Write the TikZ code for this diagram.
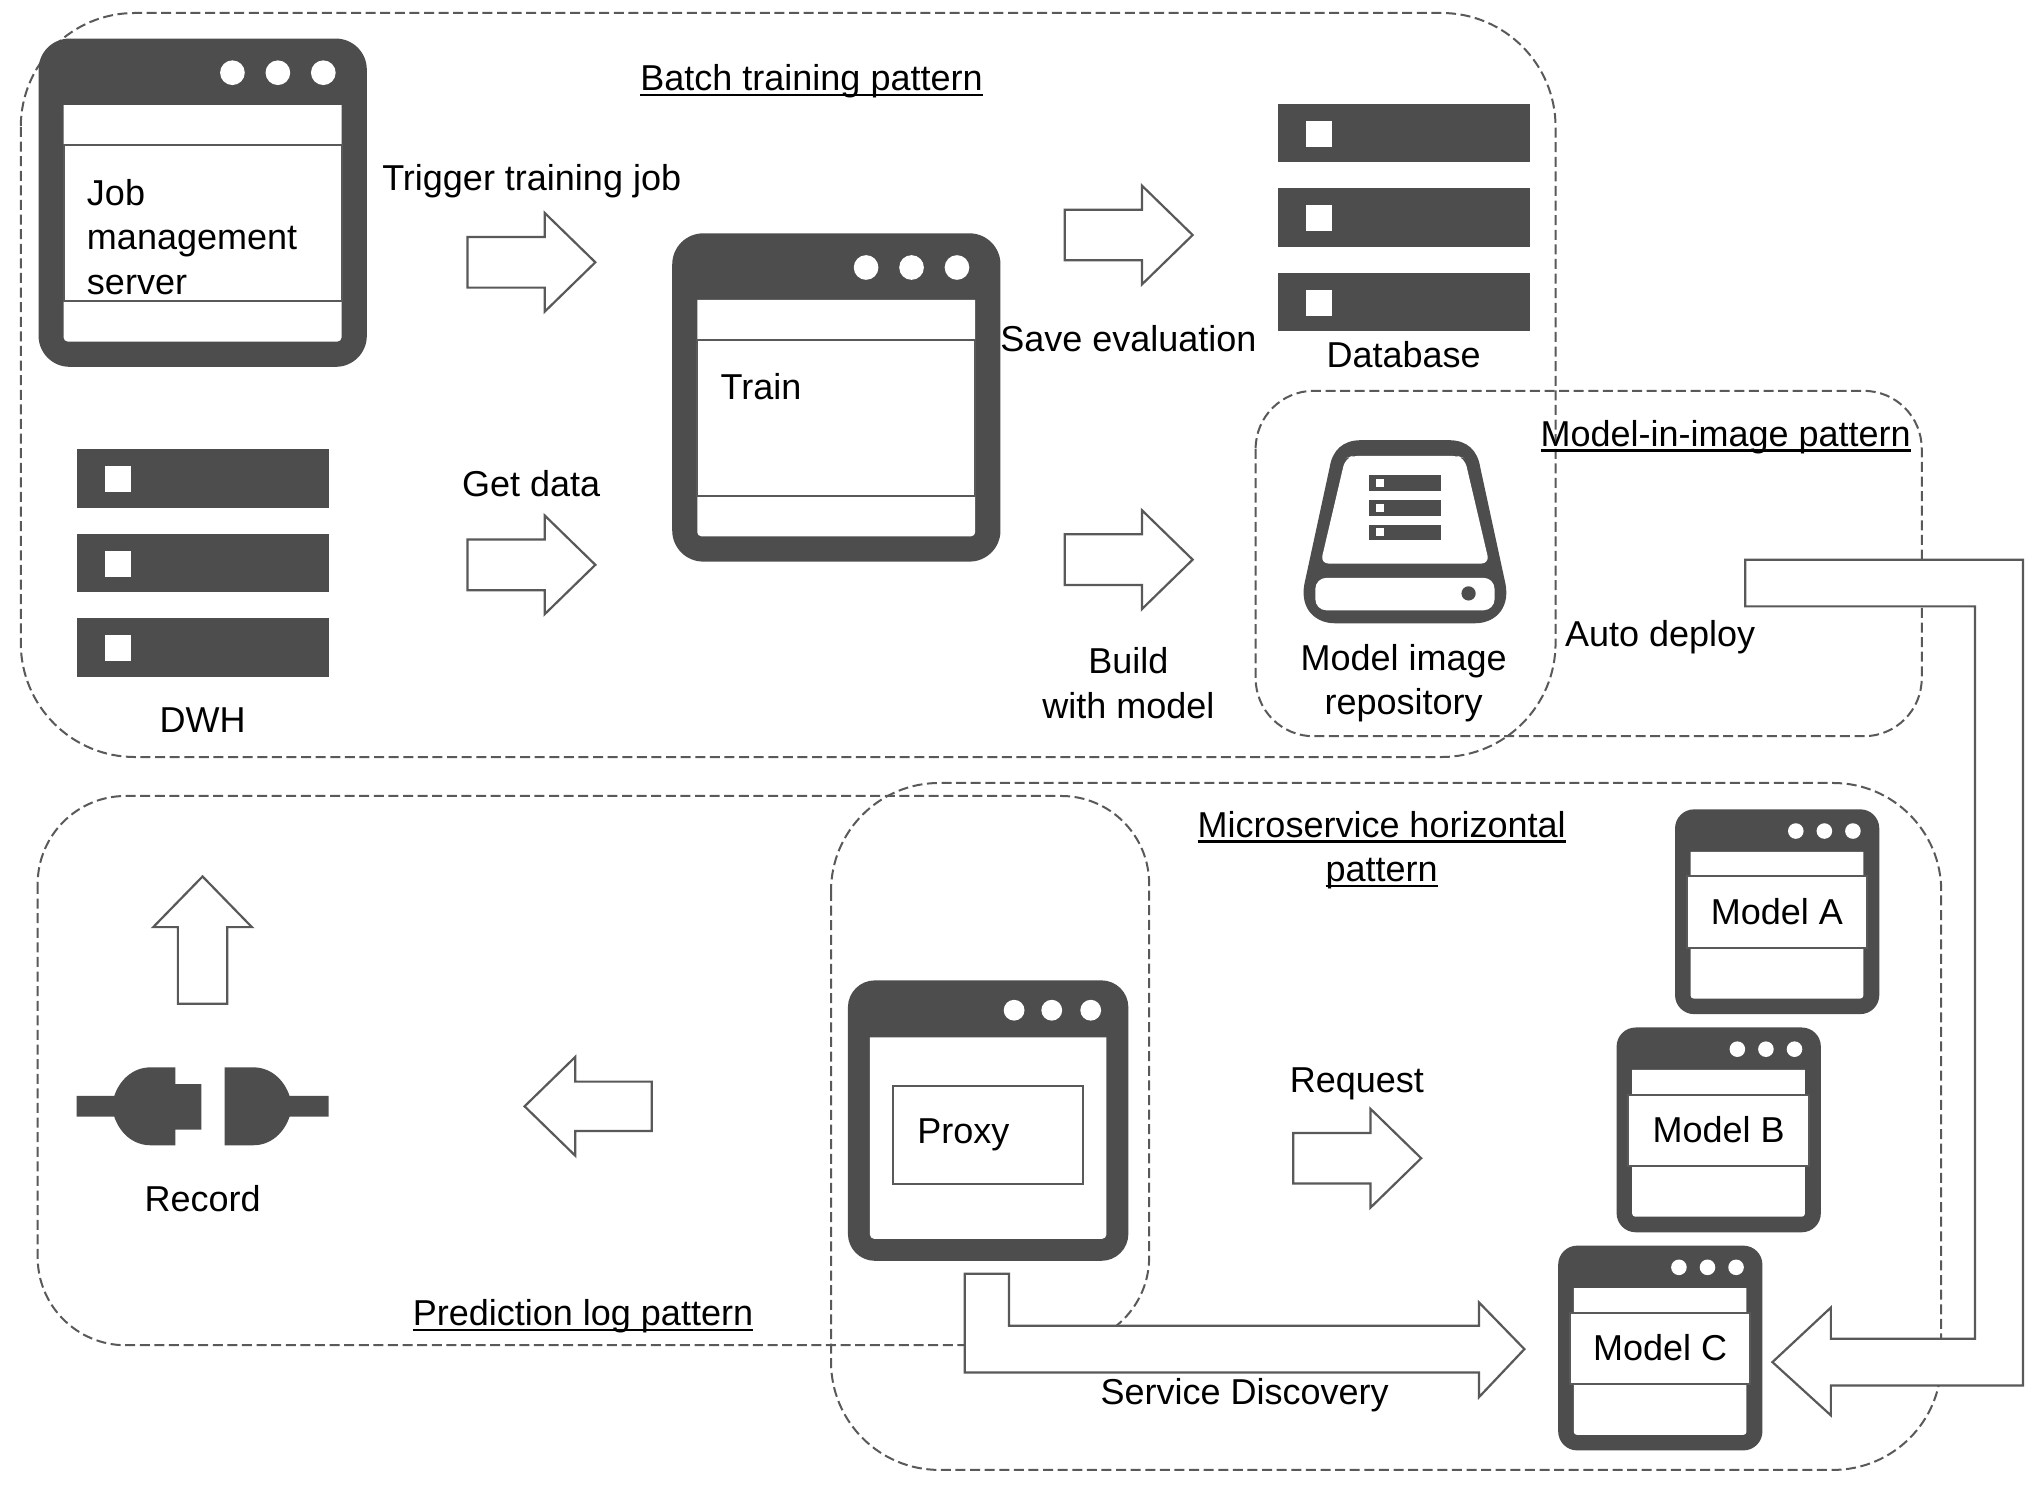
\documentclass[tikz,border=0pt]{standalone}
\usepackage{fontspec}
\setmainfont{Liberation Sans}
\definecolor{ico}{HTML}{4D4D4D}
\definecolor{edge}{HTML}{595959}
\tikzset{
  zone/.style={draw=edge,line width=1pt,dash pattern=on 5pt off 2.3pt},
  blockarrow/.style={draw=edge,fill=white,line width=1.1pt,line join=miter},
  icon/.style={fill=ico,draw=none},
  hole/.style={fill=white,draw=none},
  panel/.style={draw=edge,fill=white,line width=1pt},
  lab/.style={inner sep=0pt,outer sep=0pt,font=\fontsize{18}{22.2}\selectfont,text=black},
}
\newcommand{\ulab}[1]{\leavevmode\setbox0=\hbox{#1}\dp0=0pt\vtop{\box0\kern 1.4pt\hrule height 1.3pt}}
\newcommand{\bigwin}[2]{\begin{scope}[shift={(#1,#2)}]
  \fill[icon,rounded corners=15.5pt] (-0.3,-0.3) rectangle (252.5,252.5);
  \fill[hole] (19,51) -- (233,51) [rounded corners=2pt] -- (233,233) -- (19,233) [sharp corners] -- cycle;
  \draw[panel] (19,82) rectangle (233,202);
  \foreach \dx in {149,184,219} \fill[white] (\dx,26) circle[radius=9.5];
\end{scope}}
\newcommand{\smallwin}[2]{\begin{scope}[shift={(#1,#2)}]
  \fill[icon,rounded corners=9.5pt] (0,-0.7) rectangle (157.3,157);
  \fill[hole] (12,32) -- (145,32) [rounded corners=1.5pt] -- (145,145) -- (12,145) [sharp corners] -- cycle;
  \draw[panel] (9,51) rectangle (148,106);
  \foreach \dx in {93,115,137} \fill[white] (\dx,16) circle[radius=6];
\end{scope}}
\newcommand{\serverstack}[2]{\begin{scope}[shift={(#1,#2)}]
  \foreach \dy in {0,65,130} {
    \fill[icon] (0,\dy) rectangle (194,\dy+45);
    \fill[hole] (22,\dy+13) rectangle (42,\dy+33);
  }
\end{scope}}
\newcommand{\rightarrowblock}[2]{\draw[blockarrow] (#1,#2-19.5) -- (#1+59.5,#2-19.5) -- (#1+59.5,#2-38) -- (#1+98.5,#2) -- (#1+59.5,#2+38) -- (#1+59.5,#2+19.5) -- (#1,#2+19.5) -- cycle;}
\begin{document}
\begin{tikzpicture}[x=0.64923pt,y=-0.64923pt]
\useasboundingbox (0,0) rectangle (1568,1143);
\fill[white] (0,0) rectangle (1568,1143);

% dashed zones
\draw[zone,rounded corners=57pt] (16,10) rectangle (1198,583);
\draw[zone,rounded corners=29pt] (967,301) rectangle (1480,567);
\draw[zone,rounded corners=54pt] (640,603) rectangle (1495,1132);
\draw[zone,rounded corners=44pt] (29,613) rectangle (885,1036);

% windows
\bigwin{30}{30}
\bigwin{518}{180}
\smallwin{1290}{624}
\smallwin{1245}{792}
\smallwin{1200}{960}

% proxy window
\fill[icon,rounded corners=13.5pt] (653,755) rectangle (869,971);
\fill[hole] (670,799) -- (852,799) [rounded corners=2pt] -- (852,954) -- (670,954) [sharp corners] -- cycle;
\draw[panel] (688,836) rectangle (834,912);
\foreach \dx in {781,810,840} \fill[white] (\dx,778) circle[radius=8];

% servers
\serverstack{59}{346}
\serverstack{984}{80}

% disk icon
\fill[icon] (1048,339) -- (1116,339) .. controls (1130,339) and (1138,347) .. (1140,360)
  -- (1159.5,450) .. controls (1163,470) and (1150,480) .. (1136,480)
  -- (1028,480) .. controls (1014,480) and (1001,470) .. (1004.5,450)
  -- (1024,360) .. controls (1026,347) and (1034,339) .. (1048,339) -- cycle;
\fill[hole,rounded corners=4pt] (1042,351) -- (1122,351) -- (1128,353) -- (1147,434) -- (1017,434) -- (1036,353) -- cycle;
\fill[hole,rounded corners=5.5pt] (1013,445) rectangle (1151,470);
\fill[icon] (1131,457) circle[radius=5.5];
\foreach \by in {366,385,404} {
  \fill[icon] (1054,\by) rectangle (1110,\by+12);
  \fill[hole] (1060,\by+3) rectangle (1066,\by+9);
}

% plug
\fill[icon] (59,844) -- (88,844) .. controls (92,832) and (102,822) .. (116,822) -- (135,822) -- (135,835) -- (155,835) -- (155,870) -- (135,870) -- (135,882) -- (116,882) .. controls (102,882) and (92,872) .. (88,860) -- (59,860) -- cycle;
\fill[icon] (173,822) -- (195,822) .. controls (209,822) and (219,832) .. (223,844) -- (253,844) -- (253,860) -- (223,860) .. controls (219,872) and (209,882) .. (195,882) -- (173,882) -- cycle;

% block arrows
\rightarrowblock{360}{202}
\rightarrowblock{360}{435}
\rightarrowblock{820}{181}
\rightarrowblock{820}{431}
\rightarrowblock{996}{892}
\draw[blockarrow] (502,833) -- (443,833) -- (443,814) -- (404,852) -- (443,890) -- (443,871) -- (502,871) -- cycle;
\draw[blockarrow] (137,773) -- (137,714) -- (118,714) -- (156,675) -- (194,714) -- (175,714) -- (175,773) -- cycle;
\draw[blockarrow] (743,981) -- (777,981) -- (777,1021) -- (1139,1021) -- (1139,1003) -- (1174,1039) -- (1139,1076) -- (1139,1057) -- (743,1057) -- cycle;
\draw[blockarrow] (1344,431) -- (1558,431) -- (1558,1067) -- (1410,1067) -- (1410,1090) -- (1365,1049) -- (1410,1007) -- (1410,1031) -- (1521,1031) -- (1521,467) -- (1344,467) -- cycle;

% labels
\node[lab,anchor=base] (batch) at (625,70) {\ulab{Batch training pattern}};
\node[lab,anchor=base] (trigger) at (409.5,147) {Trigger training job};
\node[lab,align=left,anchor=west] (job) at (67,182.5) {Job\\management\\server};
\node[lab,anchor=base west] (train) at (555,308) {Train};
\node[lab,anchor=base] (getdata) at (409,382) {Get data};
\node[lab,anchor=base] (saveeval) at (869,271) {Save evaluation};
\node[lab,anchor=base] (database) at (1081,283) {Database};
\node[lab,anchor=base] (dwh) at (156,564) {DWH};
\node[lab,align=center] (build) at (869,526) {Build\\with model};
\node[lab,align=center] (repo) at (1081,526) {Model image\\repository};
\node[lab,anchor=base] (mip) at (1329,344) {\ulab{Model-in-image pattern}};
\node[lab,anchor=base] (auto) at (1278.5,498) {Auto deploy};
\node[lab,align=center] (micro) at (1064,654) {\ulab{Microservice horizontal}\\\ulab{pattern}};
\node[lab,anchor=base] (request) at (1045,841) {Request};
\node[lab,anchor=base west] (proxy) at (706.5,881) {Proxy};
\node[lab,anchor=base] (sd) at (958.5,1082) {Service Discovery};
\node[lab,anchor=base] (record) at (156,933) {Record};
\node[lab,anchor=base] (plog) at (449,1021) {\ulab{Prediction log pattern}};
\node[lab,anchor=base] (ma) at (1368.5,712) {Model A};
\node[lab,anchor=base] (mb) at (1323.5,880) {Model B};
\node[lab,anchor=base] (mc) at (1278.5,1048) {Model C};
\end{tikzpicture}
\end{document}
